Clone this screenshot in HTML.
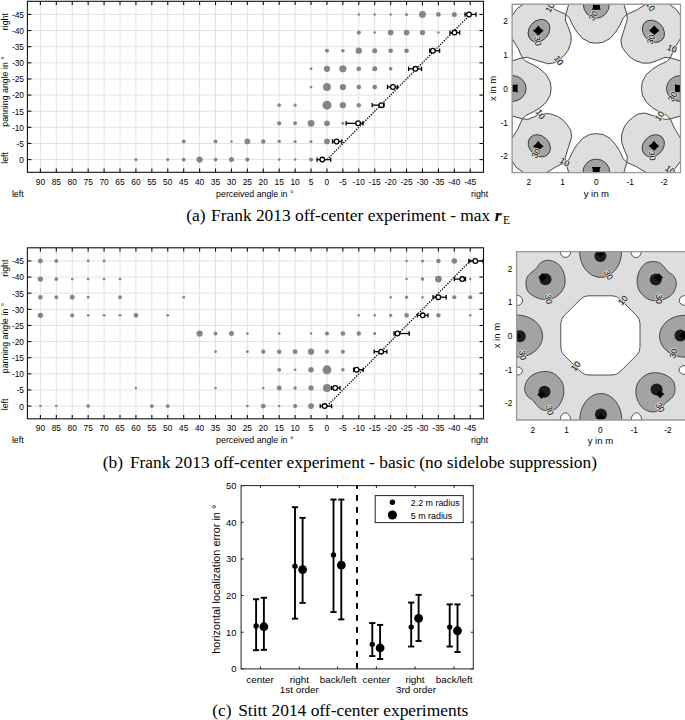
<!DOCTYPE html>
<html><head><meta charset="utf-8"><style>
html,body{margin:0;padding:0;background:#fff;}
svg{display:block;}
</style></head><body>
<svg width="685" height="720" viewBox="0 0 685 720" style="font-family:'Liberation Sans',sans-serif">
<rect width="685" height="720" fill="#fff"/>
<g stroke="#e2e2e2" stroke-width="1"><line x1="40.4" y1="1.3" x2="40.4" y2="172.3"/><line x1="56.32" y1="1.3" x2="56.32" y2="172.3"/><line x1="72.24" y1="1.3" x2="72.24" y2="172.3"/><line x1="88.16" y1="1.3" x2="88.16" y2="172.3"/><line x1="104.08" y1="1.3" x2="104.08" y2="172.3"/><line x1="120" y1="1.3" x2="120" y2="172.3"/><line x1="135.92" y1="1.3" x2="135.92" y2="172.3"/><line x1="151.84" y1="1.3" x2="151.84" y2="172.3"/><line x1="167.76" y1="1.3" x2="167.76" y2="172.3"/><line x1="183.68" y1="1.3" x2="183.68" y2="172.3"/><line x1="199.6" y1="1.3" x2="199.6" y2="172.3"/><line x1="215.52" y1="1.3" x2="215.52" y2="172.3"/><line x1="231.44" y1="1.3" x2="231.44" y2="172.3"/><line x1="247.36" y1="1.3" x2="247.36" y2="172.3"/><line x1="263.28" y1="1.3" x2="263.28" y2="172.3"/><line x1="279.2" y1="1.3" x2="279.2" y2="172.3"/><line x1="295.12" y1="1.3" x2="295.12" y2="172.3"/><line x1="311.04" y1="1.3" x2="311.04" y2="172.3"/><line x1="326.96" y1="1.3" x2="326.96" y2="172.3"/><line x1="342.88" y1="1.3" x2="342.88" y2="172.3"/><line x1="358.8" y1="1.3" x2="358.8" y2="172.3"/><line x1="374.72" y1="1.3" x2="374.72" y2="172.3"/><line x1="390.64" y1="1.3" x2="390.64" y2="172.3"/><line x1="406.56" y1="1.3" x2="406.56" y2="172.3"/><line x1="422.48" y1="1.3" x2="422.48" y2="172.3"/><line x1="438.4" y1="1.3" x2="438.4" y2="172.3"/><line x1="454.32" y1="1.3" x2="454.32" y2="172.3"/><line x1="470.24" y1="1.3" x2="470.24" y2="172.3"/><line x1="27.4" y1="159.6" x2="483.5" y2="159.6"/><line x1="27.4" y1="143.47" x2="483.5" y2="143.47"/><line x1="27.4" y1="127.34" x2="483.5" y2="127.34"/><line x1="27.4" y1="111.21" x2="483.5" y2="111.21"/><line x1="27.4" y1="95.08" x2="483.5" y2="95.08"/><line x1="27.4" y1="78.95" x2="483.5" y2="78.95"/><line x1="27.4" y1="62.82" x2="483.5" y2="62.82"/><line x1="27.4" y1="46.69" x2="483.5" y2="46.69"/><line x1="27.4" y1="30.56" x2="483.5" y2="30.56"/><line x1="27.4" y1="14.43" x2="483.5" y2="14.43"/></g>
<g fill="#858585"><circle cx="135.92" cy="159.6" r="1.54"/><circle cx="167.76" cy="159.6" r="1.54"/><circle cx="183.68" cy="159.6" r="1.91"/><circle cx="199.6" cy="159.6" r="3.09"/><circle cx="215.52" cy="159.6" r="1.91"/><circle cx="231.44" cy="159.6" r="2.5"/><circle cx="247.36" cy="159.6" r="2.07"/><circle cx="279.2" cy="159.6" r="1.32"/><circle cx="295.12" cy="159.6" r="1.27"/><circle cx="311.04" cy="159.6" r="2.07"/><circle cx="183.68" cy="141.45" r="1.91"/><circle cx="215.52" cy="141.45" r="1.91"/><circle cx="231.44" cy="141.45" r="1.27"/><circle cx="247.36" cy="141.45" r="2.88"/><circle cx="263.28" cy="141.45" r="2.23"/><circle cx="279.2" cy="141.45" r="1.8"/><circle cx="295.12" cy="141.45" r="1.54"/><circle cx="311.04" cy="141.45" r="1.54"/><circle cx="326.96" cy="141.45" r="2.88"/><circle cx="279.2" cy="123.31" r="2.13"/><circle cx="295.12" cy="123.31" r="1.97"/><circle cx="311.04" cy="123.31" r="3.41"/><circle cx="326.96" cy="123.31" r="2.88"/><circle cx="342.88" cy="123.31" r="1.54"/><circle cx="279.2" cy="105.16" r="1.8"/><circle cx="295.12" cy="105.16" r="1.54"/><circle cx="326.96" cy="105.16" r="4.48"/><circle cx="342.88" cy="105.16" r="3.14"/><circle cx="358.8" cy="105.16" r="2.23"/><circle cx="311.04" cy="87.02" r="1.38"/><circle cx="326.96" cy="87.02" r="3.95"/><circle cx="342.88" cy="87.02" r="3.14"/><circle cx="358.8" cy="87.02" r="2.34"/><circle cx="374.72" cy="87.02" r="2.34"/><circle cx="311.04" cy="68.87" r="1.43"/><circle cx="326.96" cy="68.87" r="3.14"/><circle cx="342.88" cy="68.87" r="3.57"/><circle cx="358.8" cy="68.87" r="2.34"/><circle cx="374.72" cy="68.87" r="2.5"/><circle cx="390.64" cy="68.87" r="1.8"/><circle cx="326.96" cy="50.72" r="2.07"/><circle cx="342.88" cy="50.72" r="1.8"/><circle cx="358.8" cy="50.72" r="3.14"/><circle cx="374.72" cy="50.72" r="2.5"/><circle cx="390.64" cy="50.72" r="2.34"/><circle cx="406.56" cy="50.72" r="2.34"/><circle cx="358.8" cy="32.58" r="2.07"/><circle cx="374.72" cy="32.58" r="1.27"/><circle cx="390.64" cy="32.58" r="2.88"/><circle cx="406.56" cy="32.58" r="2.88"/><circle cx="422.48" cy="32.58" r="2.61"/><circle cx="438.4" cy="32.58" r="1.27"/><circle cx="358.8" cy="14.43" r="1.27"/><circle cx="374.72" cy="14.43" r="1.27"/><circle cx="390.64" cy="14.43" r="1.27"/><circle cx="406.56" cy="14.43" r="1.54"/><circle cx="422.48" cy="14.43" r="3.41"/><circle cx="438.4" cy="14.43" r="2.34"/><circle cx="454.32" cy="14.43" r="2.5"/></g>
<line x1="326.96" y1="159.6" x2="470.24" y2="14.43" stroke="#000" stroke-width="1.3" stroke-dasharray="1.3 1.3"/>
<g stroke="#000" stroke-width="1.3" fill="none"><line x1="317" y1="159.6" x2="330.7" y2="159.6"/><line x1="317" y1="157.4" x2="317" y2="161.8"/><line x1="330.7" y1="157.4" x2="330.7" y2="161.8"/><circle cx="322.3" cy="159.6" r="2.35" fill="#fff"/><line x1="332.5" y1="141.45" x2="341.8" y2="141.45"/><line x1="332.5" y1="139.25" x2="332.5" y2="143.65"/><line x1="341.8" y1="139.25" x2="341.8" y2="143.65"/><circle cx="336.6" cy="141.45" r="2.35" fill="#fff"/><line x1="346.1" y1="123.31" x2="363" y2="123.31"/><line x1="346.1" y1="121.11" x2="346.1" y2="125.51"/><line x1="363" y1="121.11" x2="363" y2="125.51"/><circle cx="358.1" cy="123.31" r="2.35" fill="#fff"/><line x1="372.2" y1="105.16" x2="384" y2="105.16"/><line x1="372.2" y1="102.96" x2="372.2" y2="107.36"/><line x1="384" y1="102.96" x2="384" y2="107.36"/><circle cx="381.4" cy="105.16" r="2.35" fill="#fff"/><line x1="387.5" y1="87.02" x2="397.5" y2="87.02"/><line x1="387.5" y1="84.81" x2="387.5" y2="89.22"/><line x1="397.5" y1="84.81" x2="397.5" y2="89.22"/><circle cx="392.9" cy="87.02" r="2.35" fill="#fff"/><line x1="408.6" y1="68.87" x2="421.5" y2="68.87"/><line x1="408.6" y1="66.67" x2="408.6" y2="71.07"/><line x1="421.5" y1="66.67" x2="421.5" y2="71.07"/><circle cx="415.4" cy="68.87" r="2.35" fill="#fff"/><line x1="429.6" y1="50.72" x2="439.6" y2="50.72"/><line x1="429.6" y1="48.52" x2="429.6" y2="52.92"/><line x1="439.6" y1="48.52" x2="439.6" y2="52.92"/><circle cx="432.9" cy="50.72" r="2.35" fill="#fff"/><line x1="450" y1="32.58" x2="459.7" y2="32.58"/><line x1="450" y1="30.38" x2="450" y2="34.78"/><line x1="459.7" y1="30.38" x2="459.7" y2="34.78"/><circle cx="454.5" cy="32.58" r="2.35" fill="#fff"/><line x1="465" y1="14.43" x2="476" y2="14.43"/><line x1="465" y1="12.23" x2="465" y2="16.63"/><line x1="476" y1="12.23" x2="476" y2="16.63"/><circle cx="469" cy="14.43" r="2.35" fill="#fff"/></g>
<g stroke="#111" stroke-width="1.1" fill="none"><rect x="27.4" y="1.3" width="456.1" height="171" fill="none"/><line x1="40.4" y1="172.3" x2="40.4" y2="168.5"/><line x1="40.4" y1="1.3" x2="40.4" y2="5.1"/><line x1="56.32" y1="172.3" x2="56.32" y2="168.5"/><line x1="56.32" y1="1.3" x2="56.32" y2="5.1"/><line x1="72.24" y1="172.3" x2="72.24" y2="168.5"/><line x1="72.24" y1="1.3" x2="72.24" y2="5.1"/><line x1="88.16" y1="172.3" x2="88.16" y2="168.5"/><line x1="88.16" y1="1.3" x2="88.16" y2="5.1"/><line x1="104.08" y1="172.3" x2="104.08" y2="168.5"/><line x1="104.08" y1="1.3" x2="104.08" y2="5.1"/><line x1="120" y1="172.3" x2="120" y2="168.5"/><line x1="120" y1="1.3" x2="120" y2="5.1"/><line x1="135.92" y1="172.3" x2="135.92" y2="168.5"/><line x1="135.92" y1="1.3" x2="135.92" y2="5.1"/><line x1="151.84" y1="172.3" x2="151.84" y2="168.5"/><line x1="151.84" y1="1.3" x2="151.84" y2="5.1"/><line x1="167.76" y1="172.3" x2="167.76" y2="168.5"/><line x1="167.76" y1="1.3" x2="167.76" y2="5.1"/><line x1="183.68" y1="172.3" x2="183.68" y2="168.5"/><line x1="183.68" y1="1.3" x2="183.68" y2="5.1"/><line x1="199.6" y1="172.3" x2="199.6" y2="168.5"/><line x1="199.6" y1="1.3" x2="199.6" y2="5.1"/><line x1="215.52" y1="172.3" x2="215.52" y2="168.5"/><line x1="215.52" y1="1.3" x2="215.52" y2="5.1"/><line x1="231.44" y1="172.3" x2="231.44" y2="168.5"/><line x1="231.44" y1="1.3" x2="231.44" y2="5.1"/><line x1="247.36" y1="172.3" x2="247.36" y2="168.5"/><line x1="247.36" y1="1.3" x2="247.36" y2="5.1"/><line x1="263.28" y1="172.3" x2="263.28" y2="168.5"/><line x1="263.28" y1="1.3" x2="263.28" y2="5.1"/><line x1="279.2" y1="172.3" x2="279.2" y2="168.5"/><line x1="279.2" y1="1.3" x2="279.2" y2="5.1"/><line x1="295.12" y1="172.3" x2="295.12" y2="168.5"/><line x1="295.12" y1="1.3" x2="295.12" y2="5.1"/><line x1="311.04" y1="172.3" x2="311.04" y2="168.5"/><line x1="311.04" y1="1.3" x2="311.04" y2="5.1"/><line x1="326.96" y1="172.3" x2="326.96" y2="168.5"/><line x1="326.96" y1="1.3" x2="326.96" y2="5.1"/><line x1="342.88" y1="172.3" x2="342.88" y2="168.5"/><line x1="342.88" y1="1.3" x2="342.88" y2="5.1"/><line x1="358.8" y1="172.3" x2="358.8" y2="168.5"/><line x1="358.8" y1="1.3" x2="358.8" y2="5.1"/><line x1="374.72" y1="172.3" x2="374.72" y2="168.5"/><line x1="374.72" y1="1.3" x2="374.72" y2="5.1"/><line x1="390.64" y1="172.3" x2="390.64" y2="168.5"/><line x1="390.64" y1="1.3" x2="390.64" y2="5.1"/><line x1="406.56" y1="172.3" x2="406.56" y2="168.5"/><line x1="406.56" y1="1.3" x2="406.56" y2="5.1"/><line x1="422.48" y1="172.3" x2="422.48" y2="168.5"/><line x1="422.48" y1="1.3" x2="422.48" y2="5.1"/><line x1="438.4" y1="172.3" x2="438.4" y2="168.5"/><line x1="438.4" y1="1.3" x2="438.4" y2="5.1"/><line x1="454.32" y1="172.3" x2="454.32" y2="168.5"/><line x1="454.32" y1="1.3" x2="454.32" y2="5.1"/><line x1="470.24" y1="172.3" x2="470.24" y2="168.5"/><line x1="470.24" y1="1.3" x2="470.24" y2="5.1"/><line x1="27.4" y1="159.6" x2="31.4" y2="159.6"/><line x1="483.5" y1="159.6" x2="479.5" y2="159.6"/><line x1="27.4" y1="143.47" x2="31.4" y2="143.47"/><line x1="483.5" y1="143.47" x2="479.5" y2="143.47"/><line x1="27.4" y1="127.34" x2="31.4" y2="127.34"/><line x1="483.5" y1="127.34" x2="479.5" y2="127.34"/><line x1="27.4" y1="111.21" x2="31.4" y2="111.21"/><line x1="483.5" y1="111.21" x2="479.5" y2="111.21"/><line x1="27.4" y1="95.08" x2="31.4" y2="95.08"/><line x1="483.5" y1="95.08" x2="479.5" y2="95.08"/><line x1="27.4" y1="78.95" x2="31.4" y2="78.95"/><line x1="483.5" y1="78.95" x2="479.5" y2="78.95"/><line x1="27.4" y1="62.82" x2="31.4" y2="62.82"/><line x1="483.5" y1="62.82" x2="479.5" y2="62.82"/><line x1="27.4" y1="46.69" x2="31.4" y2="46.69"/><line x1="483.5" y1="46.69" x2="479.5" y2="46.69"/><line x1="27.4" y1="30.56" x2="31.4" y2="30.56"/><line x1="483.5" y1="30.56" x2="479.5" y2="30.56"/><line x1="27.4" y1="14.43" x2="31.4" y2="14.43"/><line x1="483.5" y1="14.43" x2="479.5" y2="14.43"/></g>
<g style="font-family:'Liberation Sans',sans-serif;font-size:8.4px" fill="#000"><text x="24" y="163" text-anchor="end">0</text><text x="24" y="146.87" text-anchor="end">-5</text><text x="24" y="130.74" text-anchor="end">-10</text><text x="24" y="114.61" text-anchor="end">-15</text><text x="24" y="98.48" text-anchor="end">-20</text><text x="24" y="82.35" text-anchor="end">-25</text><text x="24" y="66.22" text-anchor="end">-30</text><text x="24" y="50.09" text-anchor="end">-35</text><text x="24" y="33.96" text-anchor="end">-40</text><text x="24" y="17.83" text-anchor="end">-45</text><text x="40.4" y="184.9" text-anchor="middle">90</text><text x="56.32" y="184.9" text-anchor="middle">85</text><text x="72.24" y="184.9" text-anchor="middle">80</text><text x="88.16" y="184.9" text-anchor="middle">75</text><text x="104.08" y="184.9" text-anchor="middle">70</text><text x="120" y="184.9" text-anchor="middle">65</text><text x="135.92" y="184.9" text-anchor="middle">60</text><text x="151.84" y="184.9" text-anchor="middle">55</text><text x="167.76" y="184.9" text-anchor="middle">50</text><text x="183.68" y="184.9" text-anchor="middle">45</text><text x="199.6" y="184.9" text-anchor="middle">40</text><text x="215.52" y="184.9" text-anchor="middle">35</text><text x="231.44" y="184.9" text-anchor="middle">30</text><text x="247.36" y="184.9" text-anchor="middle">25</text><text x="263.28" y="184.9" text-anchor="middle">20</text><text x="279.2" y="184.9" text-anchor="middle">15</text><text x="295.12" y="184.9" text-anchor="middle">10</text><text x="311.04" y="184.9" text-anchor="middle">5</text><text x="326.96" y="184.9" text-anchor="middle">0</text><text x="342.88" y="184.9" text-anchor="middle">-5</text><text x="358.8" y="184.9" text-anchor="middle">-10</text><text x="374.72" y="184.9" text-anchor="middle">-15</text><text x="390.64" y="184.9" text-anchor="middle">-20</text><text x="406.56" y="184.9" text-anchor="middle">-25</text><text x="422.48" y="184.9" text-anchor="middle">-30</text><text x="438.4" y="184.9" text-anchor="middle">-35</text><text x="454.32" y="184.9" text-anchor="middle">-40</text><text x="470.24" y="184.9" text-anchor="middle">-45</text></g>
<g style="font-family:'Liberation Sans',sans-serif;font-size:8.8px" fill="#000"><text x="11.9" y="196.9">left</text><text x="254.8" y="196.9" text-anchor="middle">perceived angle in °</text><text x="471" y="196.9">right</text><text transform="translate(8.2 21.6) rotate(-90)" text-anchor="middle">right</text><text transform="translate(8.2 91.5) rotate(-90)" text-anchor="middle">panning angle in °</text><text transform="translate(8.2 157.9) rotate(-90)" text-anchor="middle">left</text></g>
<g stroke="#e2e2e2" stroke-width="1"><line x1="40.4" y1="247.8" x2="40.4" y2="418.8"/><line x1="56.32" y1="247.8" x2="56.32" y2="418.8"/><line x1="72.24" y1="247.8" x2="72.24" y2="418.8"/><line x1="88.16" y1="247.8" x2="88.16" y2="418.8"/><line x1="104.08" y1="247.8" x2="104.08" y2="418.8"/><line x1="120" y1="247.8" x2="120" y2="418.8"/><line x1="135.92" y1="247.8" x2="135.92" y2="418.8"/><line x1="151.84" y1="247.8" x2="151.84" y2="418.8"/><line x1="167.76" y1="247.8" x2="167.76" y2="418.8"/><line x1="183.68" y1="247.8" x2="183.68" y2="418.8"/><line x1="199.6" y1="247.8" x2="199.6" y2="418.8"/><line x1="215.52" y1="247.8" x2="215.52" y2="418.8"/><line x1="231.44" y1="247.8" x2="231.44" y2="418.8"/><line x1="247.36" y1="247.8" x2="247.36" y2="418.8"/><line x1="263.28" y1="247.8" x2="263.28" y2="418.8"/><line x1="279.2" y1="247.8" x2="279.2" y2="418.8"/><line x1="295.12" y1="247.8" x2="295.12" y2="418.8"/><line x1="311.04" y1="247.8" x2="311.04" y2="418.8"/><line x1="326.96" y1="247.8" x2="326.96" y2="418.8"/><line x1="342.88" y1="247.8" x2="342.88" y2="418.8"/><line x1="358.8" y1="247.8" x2="358.8" y2="418.8"/><line x1="374.72" y1="247.8" x2="374.72" y2="418.8"/><line x1="390.64" y1="247.8" x2="390.64" y2="418.8"/><line x1="406.56" y1="247.8" x2="406.56" y2="418.8"/><line x1="422.48" y1="247.8" x2="422.48" y2="418.8"/><line x1="438.4" y1="247.8" x2="438.4" y2="418.8"/><line x1="454.32" y1="247.8" x2="454.32" y2="418.8"/><line x1="470.24" y1="247.8" x2="470.24" y2="418.8"/><line x1="27.4" y1="406.1" x2="483.5" y2="406.1"/><line x1="27.4" y1="389.97" x2="483.5" y2="389.97"/><line x1="27.4" y1="373.84" x2="483.5" y2="373.84"/><line x1="27.4" y1="357.71" x2="483.5" y2="357.71"/><line x1="27.4" y1="341.58" x2="483.5" y2="341.58"/><line x1="27.4" y1="325.45" x2="483.5" y2="325.45"/><line x1="27.4" y1="309.32" x2="483.5" y2="309.32"/><line x1="27.4" y1="293.19" x2="483.5" y2="293.19"/><line x1="27.4" y1="277.06" x2="483.5" y2="277.06"/><line x1="27.4" y1="260.93" x2="483.5" y2="260.93"/></g>
<g fill="#858585"><circle cx="40.4" cy="260.93" r="2.45"/><circle cx="56.32" cy="260.93" r="1.91"/><circle cx="88.16" cy="260.93" r="1.43"/><circle cx="104.08" cy="260.93" r="1.43"/><circle cx="406.56" cy="260.93" r="1.27"/><circle cx="422.48" cy="260.93" r="1.54"/><circle cx="438.4" cy="260.93" r="2.23"/><circle cx="454.32" cy="260.93" r="2.77"/><circle cx="470.24" cy="260.93" r="1.8"/><circle cx="40.4" cy="279.08" r="2.66"/><circle cx="56.32" cy="279.08" r="1.91"/><circle cx="72.24" cy="279.08" r="1.38"/><circle cx="88.16" cy="279.08" r="1.43"/><circle cx="104.08" cy="279.08" r="1.43"/><circle cx="120" cy="279.08" r="1.43"/><circle cx="406.56" cy="279.08" r="1.27"/><circle cx="422.48" cy="279.08" r="1.8"/><circle cx="438.4" cy="279.08" r="3.41"/><circle cx="470.24" cy="279.08" r="1.27"/><circle cx="40.4" cy="297.22" r="2.29"/><circle cx="56.32" cy="297.22" r="1.91"/><circle cx="72.24" cy="297.22" r="2.45"/><circle cx="88.16" cy="297.22" r="1.38"/><circle cx="120" cy="297.22" r="1.91"/><circle cx="183.68" cy="297.22" r="1.38"/><circle cx="390.64" cy="297.22" r="1.27"/><circle cx="406.56" cy="297.22" r="1.7"/><circle cx="422.48" cy="297.22" r="1.27"/><circle cx="454.32" cy="297.22" r="2.07"/><circle cx="470.24" cy="297.22" r="2.07"/><circle cx="40.4" cy="315.37" r="2.66"/><circle cx="72.24" cy="315.37" r="2.02"/><circle cx="88.16" cy="315.37" r="1.38"/><circle cx="104.08" cy="315.37" r="1.38"/><circle cx="120" cy="315.37" r="1.38"/><circle cx="135.92" cy="315.37" r="2.34"/><circle cx="167.76" cy="315.37" r="1.43"/><circle cx="358.8" cy="315.37" r="1.27"/><circle cx="374.72" cy="315.37" r="1.27"/><circle cx="390.64" cy="315.37" r="1.64"/><circle cx="406.56" cy="315.37" r="2.34"/><circle cx="438.4" cy="315.37" r="2.23"/><circle cx="470.24" cy="315.37" r="1.27"/><circle cx="199.6" cy="333.52" r="3.14"/><circle cx="215.52" cy="333.52" r="1.91"/><circle cx="231.44" cy="333.52" r="2.5"/><circle cx="247.36" cy="333.52" r="1.38"/><circle cx="279.2" cy="333.52" r="1.27"/><circle cx="311.04" cy="333.52" r="1.27"/><circle cx="326.96" cy="333.52" r="2.07"/><circle cx="342.88" cy="333.52" r="2.34"/><circle cx="358.8" cy="333.52" r="2.23"/><circle cx="374.72" cy="333.52" r="1.54"/><circle cx="215.52" cy="351.66" r="1.43"/><circle cx="247.36" cy="351.66" r="1.43"/><circle cx="263.28" cy="351.66" r="2.07"/><circle cx="279.2" cy="351.66" r="2.23"/><circle cx="295.12" cy="351.66" r="2.45"/><circle cx="311.04" cy="351.66" r="3.14"/><circle cx="326.96" cy="351.66" r="2.07"/><circle cx="342.88" cy="351.66" r="2.02"/><circle cx="279.2" cy="369.81" r="1.91"/><circle cx="295.12" cy="369.81" r="1.38"/><circle cx="311.04" cy="369.81" r="2.77"/><circle cx="326.96" cy="369.81" r="4.48"/><circle cx="342.88" cy="369.81" r="1.8"/><circle cx="135.92" cy="387.95" r="1.27"/><circle cx="215.52" cy="387.95" r="1.27"/><circle cx="263.28" cy="387.95" r="1.27"/><circle cx="279.2" cy="387.95" r="2.45"/><circle cx="295.12" cy="387.95" r="1.7"/><circle cx="311.04" cy="387.95" r="2.61"/><circle cx="326.96" cy="387.95" r="3.95"/><circle cx="40.4" cy="406.1" r="1.27"/><circle cx="56.32" cy="406.1" r="1.27"/><circle cx="88.16" cy="406.1" r="1.8"/><circle cx="151.84" cy="406.1" r="1.91"/><circle cx="167.76" cy="406.1" r="1.91"/><circle cx="247.36" cy="406.1" r="1.38"/><circle cx="263.28" cy="406.1" r="2.45"/><circle cx="279.2" cy="406.1" r="1.27"/><circle cx="295.12" cy="406.1" r="2.07"/><circle cx="311.04" cy="406.1" r="2.88"/></g>
<line x1="326.96" y1="406.1" x2="470.24" y2="260.93" stroke="#000" stroke-width="1.3" stroke-dasharray="1.3 1.3"/>
<g stroke="#000" stroke-width="1.3" fill="none"><line x1="320.2" y1="406.1" x2="331.6" y2="406.1"/><line x1="320.2" y1="403.9" x2="320.2" y2="408.3"/><line x1="331.6" y1="403.9" x2="331.6" y2="408.3"/><circle cx="324.6" cy="406.1" r="2.35" fill="#fff"/><line x1="331.5" y1="387.95" x2="340" y2="387.95"/><line x1="331.5" y1="385.75" x2="331.5" y2="390.15"/><line x1="340" y1="385.75" x2="340" y2="390.15"/><circle cx="335.2" cy="387.95" r="2.35" fill="#fff"/><line x1="353.7" y1="369.81" x2="363.3" y2="369.81"/><line x1="353.7" y1="367.61" x2="353.7" y2="372.01"/><line x1="363.3" y1="367.61" x2="363.3" y2="372.01"/><circle cx="356.6" cy="369.81" r="2.35" fill="#fff"/><line x1="374.1" y1="351.66" x2="386.9" y2="351.66"/><line x1="374.1" y1="349.46" x2="374.1" y2="353.86"/><line x1="386.9" y1="349.46" x2="386.9" y2="353.86"/><circle cx="381.2" cy="351.66" r="2.35" fill="#fff"/><line x1="394" y1="333.52" x2="409.2" y2="333.52"/><line x1="394" y1="331.32" x2="394" y2="335.72"/><line x1="409.2" y1="331.32" x2="409.2" y2="335.72"/><circle cx="397.4" cy="333.52" r="2.35" fill="#fff"/><line x1="417.4" y1="315.37" x2="428" y2="315.37"/><line x1="417.4" y1="313.17" x2="417.4" y2="317.57"/><line x1="428" y1="313.17" x2="428" y2="317.57"/><circle cx="422.7" cy="315.37" r="2.35" fill="#fff"/><line x1="433" y1="297.22" x2="446.2" y2="297.22"/><line x1="433" y1="295.02" x2="433" y2="299.42"/><line x1="446.2" y1="295.02" x2="446.2" y2="299.42"/><circle cx="438.3" cy="297.22" r="2.35" fill="#fff"/><line x1="454.4" y1="279.08" x2="465.5" y2="279.08"/><line x1="454.4" y1="276.88" x2="454.4" y2="281.28"/><line x1="465.5" y1="276.88" x2="465.5" y2="281.28"/><circle cx="462.2" cy="279.08" r="2.35" fill="#fff"/><line x1="468.9" y1="260.93" x2="483.1" y2="260.93"/><line x1="468.9" y1="258.73" x2="468.9" y2="263.13"/><line x1="483.1" y1="258.73" x2="483.1" y2="263.13"/><circle cx="475.3" cy="260.93" r="2.35" fill="#fff"/></g>
<g stroke="#111" stroke-width="1.1" fill="none"><rect x="27.4" y="247.8" width="456.1" height="171" fill="none"/><line x1="40.4" y1="418.8" x2="40.4" y2="415"/><line x1="40.4" y1="247.8" x2="40.4" y2="251.6"/><line x1="56.32" y1="418.8" x2="56.32" y2="415"/><line x1="56.32" y1="247.8" x2="56.32" y2="251.6"/><line x1="72.24" y1="418.8" x2="72.24" y2="415"/><line x1="72.24" y1="247.8" x2="72.24" y2="251.6"/><line x1="88.16" y1="418.8" x2="88.16" y2="415"/><line x1="88.16" y1="247.8" x2="88.16" y2="251.6"/><line x1="104.08" y1="418.8" x2="104.08" y2="415"/><line x1="104.08" y1="247.8" x2="104.08" y2="251.6"/><line x1="120" y1="418.8" x2="120" y2="415"/><line x1="120" y1="247.8" x2="120" y2="251.6"/><line x1="135.92" y1="418.8" x2="135.92" y2="415"/><line x1="135.92" y1="247.8" x2="135.92" y2="251.6"/><line x1="151.84" y1="418.8" x2="151.84" y2="415"/><line x1="151.84" y1="247.8" x2="151.84" y2="251.6"/><line x1="167.76" y1="418.8" x2="167.76" y2="415"/><line x1="167.76" y1="247.8" x2="167.76" y2="251.6"/><line x1="183.68" y1="418.8" x2="183.68" y2="415"/><line x1="183.68" y1="247.8" x2="183.68" y2="251.6"/><line x1="199.6" y1="418.8" x2="199.6" y2="415"/><line x1="199.6" y1="247.8" x2="199.6" y2="251.6"/><line x1="215.52" y1="418.8" x2="215.52" y2="415"/><line x1="215.52" y1="247.8" x2="215.52" y2="251.6"/><line x1="231.44" y1="418.8" x2="231.44" y2="415"/><line x1="231.44" y1="247.8" x2="231.44" y2="251.6"/><line x1="247.36" y1="418.8" x2="247.36" y2="415"/><line x1="247.36" y1="247.8" x2="247.36" y2="251.6"/><line x1="263.28" y1="418.8" x2="263.28" y2="415"/><line x1="263.28" y1="247.8" x2="263.28" y2="251.6"/><line x1="279.2" y1="418.8" x2="279.2" y2="415"/><line x1="279.2" y1="247.8" x2="279.2" y2="251.6"/><line x1="295.12" y1="418.8" x2="295.12" y2="415"/><line x1="295.12" y1="247.8" x2="295.12" y2="251.6"/><line x1="311.04" y1="418.8" x2="311.04" y2="415"/><line x1="311.04" y1="247.8" x2="311.04" y2="251.6"/><line x1="326.96" y1="418.8" x2="326.96" y2="415"/><line x1="326.96" y1="247.8" x2="326.96" y2="251.6"/><line x1="342.88" y1="418.8" x2="342.88" y2="415"/><line x1="342.88" y1="247.8" x2="342.88" y2="251.6"/><line x1="358.8" y1="418.8" x2="358.8" y2="415"/><line x1="358.8" y1="247.8" x2="358.8" y2="251.6"/><line x1="374.72" y1="418.8" x2="374.72" y2="415"/><line x1="374.72" y1="247.8" x2="374.72" y2="251.6"/><line x1="390.64" y1="418.8" x2="390.64" y2="415"/><line x1="390.64" y1="247.8" x2="390.64" y2="251.6"/><line x1="406.56" y1="418.8" x2="406.56" y2="415"/><line x1="406.56" y1="247.8" x2="406.56" y2="251.6"/><line x1="422.48" y1="418.8" x2="422.48" y2="415"/><line x1="422.48" y1="247.8" x2="422.48" y2="251.6"/><line x1="438.4" y1="418.8" x2="438.4" y2="415"/><line x1="438.4" y1="247.8" x2="438.4" y2="251.6"/><line x1="454.32" y1="418.8" x2="454.32" y2="415"/><line x1="454.32" y1="247.8" x2="454.32" y2="251.6"/><line x1="470.24" y1="418.8" x2="470.24" y2="415"/><line x1="470.24" y1="247.8" x2="470.24" y2="251.6"/><line x1="27.4" y1="406.1" x2="31.4" y2="406.1"/><line x1="483.5" y1="406.1" x2="479.5" y2="406.1"/><line x1="27.4" y1="389.97" x2="31.4" y2="389.97"/><line x1="483.5" y1="389.97" x2="479.5" y2="389.97"/><line x1="27.4" y1="373.84" x2="31.4" y2="373.84"/><line x1="483.5" y1="373.84" x2="479.5" y2="373.84"/><line x1="27.4" y1="357.71" x2="31.4" y2="357.71"/><line x1="483.5" y1="357.71" x2="479.5" y2="357.71"/><line x1="27.4" y1="341.58" x2="31.4" y2="341.58"/><line x1="483.5" y1="341.58" x2="479.5" y2="341.58"/><line x1="27.4" y1="325.45" x2="31.4" y2="325.45"/><line x1="483.5" y1="325.45" x2="479.5" y2="325.45"/><line x1="27.4" y1="309.32" x2="31.4" y2="309.32"/><line x1="483.5" y1="309.32" x2="479.5" y2="309.32"/><line x1="27.4" y1="293.19" x2="31.4" y2="293.19"/><line x1="483.5" y1="293.19" x2="479.5" y2="293.19"/><line x1="27.4" y1="277.06" x2="31.4" y2="277.06"/><line x1="483.5" y1="277.06" x2="479.5" y2="277.06"/><line x1="27.4" y1="260.93" x2="31.4" y2="260.93"/><line x1="483.5" y1="260.93" x2="479.5" y2="260.93"/></g>
<g style="font-family:'Liberation Sans',sans-serif;font-size:8.4px" fill="#000"><text x="24" y="409.5" text-anchor="end">0</text><text x="24" y="393.37" text-anchor="end">-5</text><text x="24" y="377.24" text-anchor="end">-10</text><text x="24" y="361.11" text-anchor="end">-15</text><text x="24" y="344.98" text-anchor="end">-20</text><text x="24" y="328.85" text-anchor="end">-25</text><text x="24" y="312.72" text-anchor="end">-30</text><text x="24" y="296.59" text-anchor="end">-35</text><text x="24" y="280.46" text-anchor="end">-40</text><text x="24" y="264.33" text-anchor="end">-45</text><text x="40.4" y="431.4" text-anchor="middle">90</text><text x="56.32" y="431.4" text-anchor="middle">85</text><text x="72.24" y="431.4" text-anchor="middle">80</text><text x="88.16" y="431.4" text-anchor="middle">75</text><text x="104.08" y="431.4" text-anchor="middle">70</text><text x="120" y="431.4" text-anchor="middle">65</text><text x="135.92" y="431.4" text-anchor="middle">60</text><text x="151.84" y="431.4" text-anchor="middle">55</text><text x="167.76" y="431.4" text-anchor="middle">50</text><text x="183.68" y="431.4" text-anchor="middle">45</text><text x="199.6" y="431.4" text-anchor="middle">40</text><text x="215.52" y="431.4" text-anchor="middle">35</text><text x="231.44" y="431.4" text-anchor="middle">30</text><text x="247.36" y="431.4" text-anchor="middle">25</text><text x="263.28" y="431.4" text-anchor="middle">20</text><text x="279.2" y="431.4" text-anchor="middle">15</text><text x="295.12" y="431.4" text-anchor="middle">10</text><text x="311.04" y="431.4" text-anchor="middle">5</text><text x="326.96" y="431.4" text-anchor="middle">0</text><text x="342.88" y="431.4" text-anchor="middle">-5</text><text x="358.8" y="431.4" text-anchor="middle">-10</text><text x="374.72" y="431.4" text-anchor="middle">-15</text><text x="390.64" y="431.4" text-anchor="middle">-20</text><text x="406.56" y="431.4" text-anchor="middle">-25</text><text x="422.48" y="431.4" text-anchor="middle">-30</text><text x="438.4" y="431.4" text-anchor="middle">-35</text><text x="454.32" y="431.4" text-anchor="middle">-40</text><text x="470.24" y="431.4" text-anchor="middle">-45</text></g>
<g style="font-family:'Liberation Sans',sans-serif;font-size:8.8px" fill="#000"><text x="11.9" y="443.4">left</text><text x="254.8" y="443.4" text-anchor="middle">perceived angle in °</text><text x="471" y="443.4">right</text><text transform="translate(8.2 268.1) rotate(-90)" text-anchor="middle">right</text><text transform="translate(8.2 338) rotate(-90)" text-anchor="middle">panning angle in °</text><text transform="translate(8.2 404.4) rotate(-90)" text-anchor="middle">left</text></g>
<defs><clipPath id="cA"><rect x="512.1" y="4.2" width="168.4" height="168.4"/></clipPath><clipPath id="cB"><rect x="516.6" y="251.6" width="170" height="168.4"/></clipPath></defs>
<g clip-path="url(#cA)" fill="#dedede" stroke="#2a2a2a" stroke-width="0.85" stroke-linejoin="round"><rect x="512.1" y="4.2" width="168.4" height="168.4" fill="#fff"/><path d="M568.8 -7.6 L568.8 4 L565.8 14.4 L569.3 17.9 L572.8 25.4 L576.8 31.9 L582.5 38.4 L589.8 42.4 L596.3 43.2 L602.8 42.4 L610.1 38.4 L615.8 31.9 L619.8 25.4 L623.3 17.9 L626.8 14.4 L623.8 4 L623.8 -7.6 Z"/><path d="M565.8 14.4 L556.3 10.2 L546.3 4.2 L542.3 -7.6 L524.3 -7.6 L523.8 4 L517.3 8.4 L511.9 15.9 L500.3 16.4 L500.3 34.4 L511.9 38.4 L518.1 48.4 L522.3 57.9 L527.3 57.4 L538.3 60.8 L548 63.8 L554.9 62.7 L560.3 58.9 L564.8 54.9 L568.3 49.9 L571 41.9 L571 34.9 L568.6 27.9 L565.3 20.1 Z"/><path d="M692.3 60.9 L680.7 60.9 L670.3 57.9 L666.8 61.4 L659.3 64.9 L652.8 68.9 L646.3 74.6 L642.3 81.9 L641.5 88.4 L642.3 94.9 L646.3 102.2 L652.8 107.9 L659.3 111.9 L666.8 115.4 L670.3 118.9 L680.7 115.9 L692.3 115.9 Z"/><path d="M670.3 57.9 L674.5 48.4 L680.5 38.4 L692.3 34.4 L692.3 16.4 L680.7 15.9 L676.3 9.4 L668.8 4 L668.3 -7.6 L650.3 -7.6 L646.3 4 L636.3 10.2 L626.8 14.4 L627.3 19.4 L623.9 30.4 L620.9 40.1 L622 47 L625.8 52.4 L629.8 56.9 L634.8 60.4 L642.8 63.1 L649.8 63.1 L656.8 60.7 L664.6 57.4 Z"/><path d="M623.8 184.4 L623.8 172.8 L626.8 162.4 L623.3 158.9 L619.8 151.4 L615.8 144.9 L610.1 138.4 L602.8 134.4 L596.3 133.6 L589.8 134.4 L582.5 138.4 L576.8 144.9 L572.8 151.4 L569.3 158.9 L565.8 162.4 L568.8 172.8 L568.8 184.4 Z"/><path d="M626.8 162.4 L636.3 166.6 L646.3 172.6 L650.3 184.4 L668.3 184.4 L668.8 172.8 L675.3 168.4 L680.7 160.9 L692.3 160.4 L692.3 142.4 L680.7 138.4 L674.5 128.4 L670.3 118.9 L665.3 119.4 L654.3 116 L644.6 113 L637.7 114.1 L632.3 117.9 L627.8 121.9 L624.3 126.9 L621.6 134.9 L621.6 141.9 L624 148.9 L627.3 156.7 Z"/><path d="M500.3 115.9 L511.9 115.9 L522.3 118.9 L525.8 115.4 L533.3 111.9 L539.8 107.9 L546.3 102.2 L550.3 94.9 L551.1 88.4 L550.3 81.9 L546.3 74.6 L539.8 68.9 L533.3 64.9 L525.8 61.4 L522.3 57.9 L511.9 60.9 L500.3 60.9 Z"/><path d="M522.3 118.9 L518.1 128.4 L512.1 138.4 L500.3 142.4 L500.3 160.4 L511.9 160.9 L516.3 167.4 L523.8 172.8 L524.3 184.4 L542.3 184.4 L546.3 172.8 L556.3 166.6 L565.8 162.4 L565.3 157.4 L568.7 146.4 L571.7 136.7 L570.6 129.8 L566.8 124.4 L562.8 119.9 L557.8 116.4 L549.8 113.7 L542.8 113.7 L535.8 116.1 L528 119.4 Z"/></g>
<g clip-path="url(#cA)" fill="#a3a3a3" stroke="#2a2a2a" stroke-width="0.85"><ellipse cx="596.3" cy="4.2" rx="13" ry="14"/><ellipse cx="512.1" cy="88.5" rx="14" ry="13"/><ellipse cx="596.3" cy="172.6" rx="13.5" ry="13.5"/><ellipse cx="680.5" cy="88.5" rx="14" ry="13"/><ellipse cx="539" cy="30.7" rx="12.3" ry="9.8" transform="rotate(-50 539 30.7)"/><ellipse cx="653.4" cy="31.3" rx="12.3" ry="9.8" transform="rotate(45 653.4 31.3)"/><ellipse cx="539.3" cy="145.8" rx="12.3" ry="9.8" transform="rotate(45 539.3 145.8)"/><ellipse cx="653.3" cy="145.8" rx="12.3" ry="9.8" transform="rotate(-45 653.3 145.8)"/></g>
<g clip-path="url(#cA)" fill="#000"><path d="M592.9 1.9 L599.9 1.9 L599.9 7.8 L600.8 9.7 L591.9 9.7 L592.9 7.8 Z"/><path d="M682.8 85 L682.8 92 L676.9 92 L675 92.9 L675 84 L676.9 85 Z"/><path d="M599.7 174.9 L592.7 174.9 L592.7 169 L591.8 167.1 L600.7 167.1 L599.7 169 Z"/><path d="M509.8 91.8 L509.8 84.8 L515.7 84.8 L517.6 83.9 L517.6 92.8 L515.7 91.8 Z"/><path d="M538.3 25.5 Q540.4 28.7 543.6 30.8 Q540.4 32.9 538.3 36.1 Q536.2 32.9 533 30.8 Q536.2 28.7 538.3 25.5 Z"/><path d="M654.3 25.2 Q656.4 28.4 659.6 30.5 Q656.4 32.6 654.3 35.8 Q652.2 32.6 649 30.5 Q652.2 28.4 654.3 25.2 Z"/><path d="M538.3 141 Q540.4 144.2 543.6 146.3 Q540.4 148.4 538.3 151.6 Q536.2 148.4 533 146.3 Q536.2 144.2 538.3 141 Z"/><path d="M654 140.7 Q656.1 143.9 659.3 146 Q656.1 148.1 654 151.3 Q651.9 148.1 648.7 146 Q651.9 143.9 654 140.7 Z"/></g>
<g clip-path="url(#cA)" style="font-family:'Liberation Sans',sans-serif;font-size:8.6px;paint-order:stroke" fill="#000" stroke="#dedede" stroke-width="1.6"><text transform="translate(550 7.5) rotate(-60)" text-anchor="middle" dy="2.8">10</text><text transform="translate(558.5 60.5) rotate(55)" text-anchor="middle" dy="2.8">10</text><text transform="translate(650.5 6.3) rotate(60)" text-anchor="middle" dy="2.8">10</text><text transform="translate(672 48.5) rotate(20)" text-anchor="middle" dy="2.8">10</text><text transform="translate(540.4 114.4) rotate(55)" text-anchor="middle" dy="2.8">10</text><text transform="translate(564.6 162.3) rotate(30)" text-anchor="middle" dy="2.8">10</text><text transform="translate(659.6 116.1) rotate(-55)" text-anchor="middle" dy="2.8">10</text><text transform="translate(670 170) rotate(35)" text-anchor="middle" dy="2.8">10</text><text transform="translate(537.6 40.9) rotate(80)" text-anchor="middle" dy="2.8">30</text><text transform="translate(593.5 15.8) rotate(-60)" text-anchor="middle" dy="2.8">30</text><text transform="translate(651.2 39.2) rotate(-70)" text-anchor="middle" dy="2.8">30</text><text transform="translate(672.8 96.7) rotate(-60)" text-anchor="middle" dy="2.8">30</text><text transform="translate(536.2 153.3) rotate(-60)" text-anchor="middle" dy="2.8">30</text><text transform="translate(652 155.7) rotate(80)" text-anchor="middle" dy="2.8">30</text></g>
<rect x="512.1" y="4.2" width="168.4" height="168.4" fill="none" stroke="#999" stroke-width="1.3"/>
<g style="font-family:'Liberation Sans',sans-serif;font-size:8.3px" fill="#000"><text x="507.9" y="24.4" text-anchor="end">2</text><text x="507.9" y="58.1" text-anchor="end">1</text><text x="507.9" y="91.8" text-anchor="end">0</text><text x="507.9" y="125.5" text-anchor="end">-1</text><text x="507.9" y="159.2" text-anchor="end">-2</text><text x="528.7" y="185.4" text-anchor="middle">2</text><text x="562.5" y="185.4" text-anchor="middle">1</text><text x="596.3" y="185.4" text-anchor="middle">0</text><text x="630.1" y="185.4" text-anchor="middle">-1</text><text x="663.9" y="185.4" text-anchor="middle">-2</text></g><g style="font-family:'Liberation Sans',sans-serif;font-size:9.5px" fill="#000"><text x="596.3" y="197.4" text-anchor="middle">y in m</text><text transform="translate(496 88.4) rotate(-90)" text-anchor="middle">x in m</text></g>
<g clip-path="url(#cB)"><rect x="516.6" y="251.6" width="170" height="168.4" fill="#dedede"/><ellipse cx="565.5" cy="251.6" rx="5.2" ry="5.8" fill="#fff" stroke="#2a2a2a" stroke-width="0.8"/><ellipse cx="636.1" cy="251.6" rx="5.2" ry="6" fill="#fff" stroke="#2a2a2a" stroke-width="0.8"/><ellipse cx="516.6" cy="300.5" rx="6" ry="5.2" fill="#fff" stroke="#2a2a2a" stroke-width="0.8"/><ellipse cx="516.6" cy="371" rx="5.8" ry="4.2" fill="#fff" stroke="#2a2a2a" stroke-width="0.8"/><ellipse cx="565.4" cy="420" rx="5.2" ry="7.2" fill="#fff" stroke="#2a2a2a" stroke-width="0.8"/><ellipse cx="636.4" cy="420" rx="5.2" ry="7.2" fill="#fff" stroke="#2a2a2a" stroke-width="0.8"/><ellipse cx="685" cy="300.5" rx="5.8" ry="4.9" fill="#fff" stroke="#2a2a2a" stroke-width="0.8"/><ellipse cx="685" cy="370" rx="6" ry="4.4" fill="#fff" stroke="#2a2a2a" stroke-width="0.8"/><path d="M640 347.3 Q640 351.8 636.82 354.98 L619.98 371.82 Q616.8 375 612.3 375 L588.5 375 Q584 375 580.82 371.82 L563.98 354.98 Q560.8 351.8 560.8 347.3 L560.8 323.5 Q560.8 319 563.98 315.82 L580.82 298.98 Q584 295.8 588.5 295.8 L612.3 295.8 Q616.8 295.8 619.98 298.98 L636.82 315.82 Q640 319 640 323.5 Z" fill="#fff" stroke="#2a2a2a" stroke-width="0.8"/><ellipse cx="600.6" cy="251.6" rx="21" ry="25.8" fill="#a3a3a3" stroke="#2a2a2a" stroke-width="0.8"/><ellipse cx="516.6" cy="336.2" rx="26" ry="21.2" fill="#a3a3a3" stroke="#2a2a2a" stroke-width="0.8"/><ellipse cx="600.8" cy="420" rx="21" ry="26.5" fill="#a3a3a3" stroke="#2a2a2a" stroke-width="0.8"/><ellipse cx="685" cy="336.2" rx="25.5" ry="21" fill="#a3a3a3" stroke="#2a2a2a" stroke-width="0.8"/><path d="M546.7 260.3 C549.12 260.07 552.3 260.87 554.6 261.9 C556.9 262.93 558.97 264.63 560.5 266.5 C562.03 268.37 563.03 270.9 563.8 273.1 C564.57 275.3 565 277.5 565.1 279.7 C565.2 281.9 565.07 284.22 564.4 286.3 C563.73 288.38 562.52 290.45 561.1 292.2 C559.68 293.95 557.75 295.65 555.9 296.8 C554.05 297.95 552.42 298.72 550 299.1 C547.58 299.48 544.15 299.6 541.4 299.1 C538.65 298.6 535.8 297.47 533.5 296.1 C531.2 294.73 528.85 293.08 527.6 290.9 C526.35 288.72 526 285.42 526 283 C526 280.58 526.57 278.27 527.6 276.4 C528.63 274.53 530.67 273.22 532.2 271.8 C533.73 270.38 535.48 269.32 536.8 267.9 C538.12 266.48 538.45 264.57 540.1 263.3 C541.75 262.03 544.28 260.53 546.7 260.3 Z" fill="#a3a3a3" stroke="#2a2a2a" stroke-width="0.8"/><path d="M676.3 282.3 C676.53 284.72 675.73 287.9 674.7 290.2 C673.67 292.5 671.97 294.57 670.1 296.1 C668.23 297.63 665.7 298.63 663.5 299.4 C661.3 300.17 659.1 300.6 656.9 300.7 C654.7 300.8 652.38 300.67 650.3 300 C648.22 299.33 646.15 298.12 644.4 296.7 C642.65 295.28 640.95 293.35 639.8 291.5 C638.65 289.65 637.88 288.02 637.5 285.6 C637.12 283.18 637 279.75 637.5 277 C638 274.25 639.13 271.4 640.5 269.1 C641.87 266.8 643.52 264.45 645.7 263.2 C647.88 261.95 651.18 261.6 653.6 261.6 C656.02 261.6 658.33 262.17 660.2 263.2 C662.07 264.23 663.38 266.27 664.8 267.8 C666.22 269.33 667.28 271.08 668.7 272.4 C670.12 273.72 672.03 274.05 673.3 275.7 C674.57 277.35 676.07 279.88 676.3 282.3 Z" fill="#a3a3a3" stroke="#2a2a2a" stroke-width="0.8"/><path d="M654.3 411.9 C651.88 412.13 648.7 411.33 646.4 410.3 C644.1 409.27 642.03 407.57 640.5 405.7 C638.97 403.83 637.97 401.3 637.2 399.1 C636.43 396.9 636 394.7 635.9 392.5 C635.8 390.3 635.93 387.98 636.6 385.9 C637.27 383.82 638.48 381.75 639.9 380 C641.32 378.25 643.25 376.55 645.1 375.4 C646.95 374.25 648.58 373.48 651 373.1 C653.42 372.72 656.85 372.6 659.6 373.1 C662.35 373.6 665.2 374.73 667.5 376.1 C669.8 377.47 672.15 379.12 673.4 381.3 C674.65 383.48 675 386.78 675 389.2 C675 391.62 674.43 393.93 673.4 395.8 C672.37 397.67 670.33 398.98 668.8 400.4 C667.27 401.82 665.52 402.88 664.2 404.3 C662.88 405.72 662.55 407.63 660.9 408.9 C659.25 410.17 656.72 411.67 654.3 411.9 Z" fill="#a3a3a3" stroke="#2a2a2a" stroke-width="0.8"/><path d="M524.7 389.9 C524.47 387.48 525.27 384.3 526.3 382 C527.33 379.7 529.03 377.63 530.9 376.1 C532.77 374.57 535.3 373.57 537.5 372.8 C539.7 372.03 541.9 371.6 544.1 371.5 C546.3 371.4 548.62 371.53 550.7 372.2 C552.78 372.87 554.85 374.08 556.6 375.5 C558.35 376.92 560.05 378.85 561.2 380.7 C562.35 382.55 563.12 384.18 563.5 386.6 C563.88 389.02 564 392.45 563.5 395.2 C563 397.95 561.87 400.8 560.5 403.1 C559.13 405.4 557.48 407.75 555.3 409 C553.12 410.25 549.82 410.6 547.4 410.6 C544.98 410.6 542.67 410.03 540.8 409 C538.93 407.97 537.62 405.93 536.2 404.4 C534.78 402.87 533.72 401.12 532.3 399.8 C530.88 398.48 528.97 398.15 527.7 396.5 C526.43 394.85 524.93 392.32 524.7 389.9 Z" fill="#a3a3a3" stroke="#2a2a2a" stroke-width="0.8"/><circle cx="545.5" cy="279.2" r="6" fill="#1c1c1c"/><path d="M542.5 273 Q544.4 275.3 546.7 277.2 Q544.4 279.1 542.5 281.4 Q540.6 279.1 538.3 277.2 Q540.6 275.3 542.5 273 Z" fill="#000"/><circle cx="600.4" cy="256" r="6" fill="#1c1c1c"/><path d="M600.4 248.8 Q602.3 251.1 604.6 253 Q602.3 254.9 600.4 257.2 Q598.5 254.9 596.2 253 Q598.5 251.1 600.4 248.8 Z" fill="#000"/><circle cx="655.8" cy="279.5" r="6" fill="#1c1c1c"/><path d="M658.8 273.3 Q660.7 275.6 663 277.5 Q660.7 279.4 658.8 281.7 Q656.9 279.4 654.6 277.5 Q656.9 275.6 658.8 273.3 Z" fill="#000"/><circle cx="680.5" cy="335.5" r="6" fill="#1c1c1c"/><path d="M683.5 331.3 Q685.4 333.6 687.7 335.5 Q685.4 337.4 683.5 339.7 Q681.6 337.4 679.3 335.5 Q681.6 333.6 683.5 331.3 Z" fill="#000"/><circle cx="656.6" cy="389.6" r="6" fill="#1c1c1c"/><path d="M660.1 389.9 Q662 392.2 664.3 394.1 Q662 396 660.1 398.3 Q658.2 396 655.9 394.1 Q658.2 392.2 660.1 389.9 Z" fill="#000"/><circle cx="600.9" cy="414.5" r="6" fill="#1c1c1c"/><path d="M600.9 413.3 Q602.8 415.6 605.1 417.5 Q602.8 419.4 600.9 421.7 Q599 419.4 596.7 417.5 Q599 415.6 600.9 413.3 Z" fill="#000"/><circle cx="544.5" cy="391.8" r="6" fill="#1c1c1c"/><path d="M541.5 390.6 Q543.4 392.9 545.7 394.8 Q543.4 396.7 541.5 399 Q539.6 396.7 537.3 394.8 Q539.6 392.9 541.5 390.6 Z" fill="#000"/><circle cx="519.8" cy="336.2" r="6" fill="#1c1c1c"/><path d="M516.8 332 Q518.7 334.3 521 336.2 Q518.7 338.1 516.8 340.4 Q514.9 338.1 512.6 336.2 Q514.9 334.3 516.8 332 Z" fill="#000"/></g>
<g clip-path="url(#cB)" style="font-family:'Liberation Sans',sans-serif;font-size:8.6px;paint-order:stroke" fill="#000" stroke="#dedede" stroke-width="1.6"><text transform="translate(623 300.4) rotate(-50)" text-anchor="middle" dy="2.8">10</text><text transform="translate(575.8 366.3) rotate(-50)" text-anchor="middle" dy="2.8">10</text><text transform="translate(548.5 299.3) rotate(80)" text-anchor="middle" dy="2.8">30</text><text transform="translate(608.4 275) rotate(60)" text-anchor="middle" dy="2.8">30</text><text transform="translate(658.7 299.1) rotate(90)" text-anchor="middle" dy="2.8">30</text><text transform="translate(673.7 353.6) rotate(-70)" text-anchor="middle" dy="2.8">30</text><text transform="translate(660 407.6) rotate(60)" text-anchor="middle" dy="2.8">30</text><text transform="translate(549.7 410.2) rotate(80)" text-anchor="middle" dy="2.8">30</text><text transform="translate(522.5 355.2) rotate(80)" text-anchor="middle" dy="2.8">30</text></g>
<path d="M686 251.6 H516.6 V420 H686" fill="none" stroke="#999" stroke-width="1.3"/>
<g style="font-family:'Liberation Sans',sans-serif;font-size:8.3px" fill="#000"><text x="512.3" y="271.6" text-anchor="end">2</text><text x="512.3" y="305.3" text-anchor="end">1</text><text x="512.3" y="339" text-anchor="end">0</text><text x="512.3" y="372.7" text-anchor="end">-1</text><text x="512.3" y="406.4" text-anchor="end">-2</text><text x="532.8" y="432.5" text-anchor="middle">2</text><text x="566.6" y="432.5" text-anchor="middle">1</text><text x="600.4" y="432.5" text-anchor="middle">0</text><text x="634.2" y="432.5" text-anchor="middle">-1</text><text x="668" y="432.5" text-anchor="middle">-2</text></g><g style="font-family:'Liberation Sans',sans-serif;font-size:9.5px" fill="#000"><text x="600.4" y="444.2" text-anchor="middle">y in m</text><text transform="translate(500.3 335.6) rotate(-90)" text-anchor="middle">x in m</text></g>
<g stroke="#222" stroke-width="1" fill="none"><rect x="241.1" y="485.6" width="232.2" height="183.3" fill="none"/><line x1="241.1" y1="668.9" x2="243.6" y2="668.9"/><line x1="473.3" y1="668.9" x2="470.8" y2="668.9"/><line x1="241.1" y1="632.24" x2="243.6" y2="632.24"/><line x1="473.3" y1="632.24" x2="470.8" y2="632.24"/><line x1="241.1" y1="595.58" x2="243.6" y2="595.58"/><line x1="473.3" y1="595.58" x2="470.8" y2="595.58"/><line x1="241.1" y1="558.92" x2="243.6" y2="558.92"/><line x1="473.3" y1="558.92" x2="470.8" y2="558.92"/><line x1="241.1" y1="522.26" x2="243.6" y2="522.26"/><line x1="473.3" y1="522.26" x2="470.8" y2="522.26"/><line x1="241.1" y1="485.6" x2="243.6" y2="485.6"/><line x1="473.3" y1="485.6" x2="470.8" y2="485.6"/><line x1="260.4" y1="668.9" x2="260.4" y2="666.4"/><line x1="260.4" y1="485.6" x2="260.4" y2="488.1"/><line x1="299.3" y1="668.9" x2="299.3" y2="666.4"/><line x1="299.3" y1="485.6" x2="299.3" y2="488.1"/><line x1="337.6" y1="668.9" x2="337.6" y2="666.4"/><line x1="337.6" y1="485.6" x2="337.6" y2="488.1"/><line x1="376.4" y1="668.9" x2="376.4" y2="666.4"/><line x1="376.4" y1="485.6" x2="376.4" y2="488.1"/><line x1="415.1" y1="668.9" x2="415.1" y2="666.4"/><line x1="415.1" y1="485.6" x2="415.1" y2="488.1"/><line x1="454" y1="668.9" x2="454" y2="666.4"/><line x1="454" y1="485.6" x2="454" y2="488.1"/></g>
<line x1="357.0" y1="485.6" x2="357.0" y2="668.9" stroke="#000" stroke-width="2" stroke-dasharray="5.7 6.3" stroke-dashoffset="2.6"/>
<g stroke="#000" stroke-width="1.9"><line x1="256.1" y1="650.2" x2="256.1" y2="599.25"/><line x1="253" y1="650.2" x2="259.2" y2="650.2"/><line x1="253" y1="599.25" x2="259.2" y2="599.25"/><line x1="263.9" y1="649.84" x2="263.9" y2="597.78"/><line x1="260.8" y1="649.84" x2="267" y2="649.84"/><line x1="260.8" y1="597.78" x2="267" y2="597.78"/><line x1="295" y1="618.68" x2="295" y2="507.23"/><line x1="291.9" y1="618.68" x2="298.1" y2="618.68"/><line x1="291.9" y1="507.23" x2="298.1" y2="507.23"/><line x1="302.6" y1="602.91" x2="302.6" y2="517.86"/><line x1="299.5" y1="602.91" x2="305.7" y2="602.91"/><line x1="299.5" y1="517.86" x2="305.7" y2="517.86"/><line x1="333.5" y1="612.08" x2="333.5" y2="499.53"/><line x1="330.4" y1="612.08" x2="336.6" y2="612.08"/><line x1="330.4" y1="499.53" x2="336.6" y2="499.53"/><line x1="341.3" y1="619.41" x2="341.3" y2="499.53"/><line x1="338.2" y1="619.41" x2="344.4" y2="619.41"/><line x1="338.2" y1="499.53" x2="344.4" y2="499.53"/><line x1="372.3" y1="656.07" x2="372.3" y2="623.08"/><line x1="369.2" y1="656.07" x2="375.4" y2="656.07"/><line x1="369.2" y1="623.08" x2="375.4" y2="623.08"/><line x1="380.1" y1="659" x2="380.1" y2="624.91"/><line x1="377" y1="659" x2="383.2" y2="659"/><line x1="377" y1="624.91" x2="383.2" y2="624.91"/><line x1="411.2" y1="646.54" x2="411.2" y2="602.55"/><line x1="408.1" y1="646.54" x2="414.3" y2="646.54"/><line x1="408.1" y1="602.55" x2="414.3" y2="602.55"/><line x1="418.6" y1="641.04" x2="418.6" y2="594.85"/><line x1="415.5" y1="641.04" x2="421.7" y2="641.04"/><line x1="415.5" y1="594.85" x2="421.7" y2="594.85"/><line x1="449.7" y1="646.54" x2="449.7" y2="604.38"/><line x1="446.6" y1="646.54" x2="452.8" y2="646.54"/><line x1="446.6" y1="604.38" x2="452.8" y2="604.38"/><line x1="457.5" y1="652.04" x2="457.5" y2="604.38"/><line x1="454.4" y1="652.04" x2="460.6" y2="652.04"/><line x1="454.4" y1="604.38" x2="460.6" y2="604.38"/></g>
<g fill="#000"><circle cx="256.1" cy="626.01" r="2.7"/><circle cx="263.9" cy="626.74" r="4.4"/><circle cx="295" cy="566.25" r="2.7"/><circle cx="302.6" cy="569.55" r="4.4"/><circle cx="333.5" cy="554.89" r="2.7"/><circle cx="341.3" cy="565.15" r="4.4"/><circle cx="372.3" cy="644.34" r="2.7"/><circle cx="380.1" cy="648" r="4.4"/><circle cx="411.2" cy="627.11" r="2.7"/><circle cx="418.6" cy="618.31" r="4.4"/><circle cx="449.7" cy="627.11" r="2.7"/><circle cx="457.5" cy="630.77" r="4.4"/></g>
<rect x="375.2" y="495.6" width="88" height="27" fill="#fff" stroke="#222" stroke-width="1"/>
<circle cx="392.4" cy="502.3" r="2.7" fill="#000"/><circle cx="392.4" cy="515" r="4.6" fill="#000"/>
<g style="font-family:'Liberation Sans',sans-serif;font-size:8.9px" fill="#000"><text x="410.8" y="506.4">2.2 m radius</text><text x="410.8" y="519.1">5 m radius</text></g>
<g style="font-family:'Liberation Sans',sans-serif;font-size:9.4px" fill="#000"><text x="236.4" y="672.3" text-anchor="end">0</text><text x="236.4" y="635.64" text-anchor="end">10</text><text x="236.4" y="598.98" text-anchor="end">20</text><text x="236.4" y="562.32" text-anchor="end">30</text><text x="236.4" y="525.66" text-anchor="end">40</text><text x="236.4" y="489" text-anchor="end">50</text></g>
<g style="font-family:'Liberation Sans',sans-serif;font-size:9.9px" fill="#000"><text x="260.1" y="682.6" text-anchor="middle">center</text><text x="299.3" y="682.6" text-anchor="middle">right</text><text x="338.1" y="682.6" text-anchor="middle">back/left</text><text x="376.3" y="682.6" text-anchor="middle">center</text><text x="415" y="682.6" text-anchor="middle">right</text><text x="454.2" y="682.6" text-anchor="middle">back/left</text><text x="299.3" y="692.5" text-anchor="middle">1st order</text><text x="416" y="692.5" text-anchor="middle">3rd order</text></g>
<text transform="translate(220.3 579.2) rotate(-90)" text-anchor="middle" style="font-family:'Liberation Sans',sans-serif;font-size:10.9px">horizontal localization error in °</text>
<text x="186.2" y="221.3" style="font-family:'Liberation Serif',serif;font-size:17.4px" fill="#000">(a)</text>
<text x="211" y="221.3" style="font-family:'Liberation Serif',serif;font-size:17.4px" fill="#000">Frank 2013 off-center experiment - max <tspan style="font-weight:bold;font-style:italic">r</tspan><tspan dx="1.6" dy="2.6" style="font-size:11.6px">E</tspan></text>
<text x="102.8" y="467.7" style="font-family:'Liberation Serif',serif;font-size:17.4px" fill="#000">(b)</text>
<text x="129.9" y="467.7" style="font-family:'Liberation Serif',serif;font-size:17.4px" fill="#000">Frank 2013 off-center experiment - basic (no sidelobe suppression)</text>
<text x="212.2" y="715.8" style="font-family:'Liberation Serif',serif;font-size:17.4px" fill="#000">(c)</text>
<text x="238.2" y="715.8" style="font-family:'Liberation Serif',serif;font-size:17.4px" fill="#000">Stitt 2014 off-center experiments</text>
</svg>
</body></html>
